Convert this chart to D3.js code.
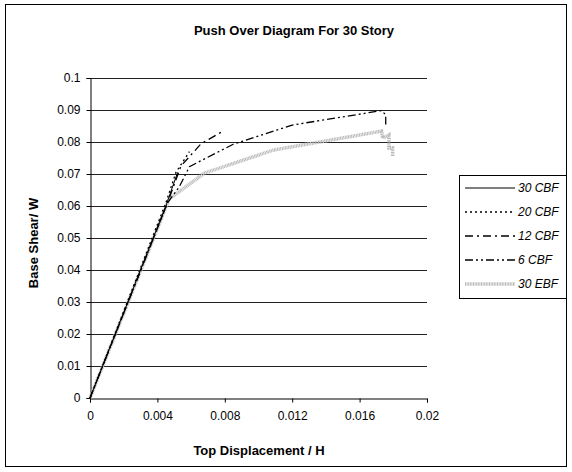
<!DOCTYPE html>
<html lang="en">
<head>
    <title>Push Over Diagram</title>
    <script src="https://d3js.org/d3.v7.min.js"></script>
    <style>
        body { margin: 0; background: #fff; }
        text { font-family: "Liberation Sans", Arial, sans-serif; }
    </style>
</head>
<body>
<div id="chart"></div>
<script>
    // series values: [displacement / H, base shear / W]
    var cbf30 = [[0, 0], [0.0045, 0.06], [0.0052, 0.0705]];
    var cbf20 = [[0, 0], [0.0045, 0.061], [0.0051, 0.0705], [0.0059, 0.077]];
    var cbf12 = [[0, 0], [0.0046, 0.061], [0.0054, 0.0725], [0.0066, 0.0795], [0.0079, 0.0834]];
    var cbf6 = [[0, 0], [0.0046, 0.061], [0.0053, 0.066], [0.0059, 0.0723], [0.0085, 0.0793],
        [0.012, 0.0853], [0.0173, 0.0898], [0.01755, 0.0885], [0.01755, 0.0855]];
    var ebf30 = [[0, 0], [0.0047, 0.0622], [0.0068, 0.0703], [0.0109, 0.0775], [0.0173, 0.0834],
        [0.01737, 0.0812], [0.01774, 0.0822], [0.01774, 0.0781], [0.01796, 0.0781], [0.01796, 0.0754]];

    var seriesNames = ["30 CBF", "20 CBF", "12 CBF", "6 CBF", "30 EBF"];
    var xTicks = [0, 0.004, 0.008, 0.012, 0.016, 0.02];
    var yTicks = [0, 0.01, 0.02, 0.03, 0.04, 0.05, 0.06, 0.07, 0.08, 0.09, 0.1];

    var w = 572, h = 472;
    var series = [
        { name: seriesNames[0], data: cbf30, stroke: "#000", width: 1, dash: null },
        { name: seriesNames[1], data: cbf20, stroke: "#000", width: 1.3, dash: "2,3" },
        { name: seriesNames[2], data: cbf12, stroke: "#000", width: 1.3, dash: "8,4,2,4" },
        { name: seriesNames[3], data: cbf6, stroke: "#000", width: 1.3, dash: "8,3,2,3,2,3" },
        { name: seriesNames[4], data: ebf30, stroke: "#b8b8b8", width: 3.5, dash: "1,0.6" }
    ];

    var svg = d3.select("#chart").append("svg")
        .attr("width", w)
        .attr("height", h);

    // outer frame
    svg.append("rect")
        .attr("x", 5.5).attr("y", 4.5)
        .attr("width", 561).attr("height", 462)
        .attr("fill", "none").attr("stroke", "#000");

    var xScale = d3.scaleLinear().domain([0, 0.02]).range([90, 427]);
    var yScale = d3.scaleLinear().domain([0, 0.1]).range([398, 78]);

    // gridlines
    svg.append("g").selectAll("line")
        .data(yTicks.filter(d => d > 0))
        .enter().append("line")
        .attr("x1", xScale(0)).attr("x2", xScale(0.02))
        .attr("y1", d => yScale(d) + 0.5).attr("y2", d => yScale(d) + 0.5)
        .attr("stroke", "#222").attr("stroke-width", 1);

    var xAxis = svg.append("g")
        .attr("transform", "translate(0," + (yScale(0) + 0.5) + ")")
        .call(d3.axisBottom(xScale).tickValues(xTicks).tickSize(4).tickPadding(9)
            .tickFormat(d => d === 0 ? "0" : String(+d.toFixed(3))));
    var yAxis = svg.append("g")
        .attr("transform", "translate(" + (xScale(0) + 0.5) + ",0)")
        .call(d3.axisLeft(yScale).tickValues(yTicks).tickSize(4).tickPadding(6)
            .tickFormat(d => d === 0 ? "0" : String(+d.toFixed(2))));
    [xAxis, yAxis].forEach(a => {
        a.selectAll("text").style("font-size", "12px").attr("fill", "#000")
            .style("font-family", "'Liberation Sans', Arial, sans-serif");
        a.select(".domain").attr("stroke", "#000");
        a.selectAll(".tick line").attr("stroke", "#000");
    });

    var line = d3.line()
        .x(d => xScale(d[0]))
        .y(d => yScale(d[1]));

    // draw grey EBF first so black lines sit on top
    [series[4], series[0], series[1], series[2], series[3]].forEach(s => {
        svg.append("path")
            .datum(s.data)
            .attr("d", line)
            .attr("fill", "none")
            .attr("stroke", s.stroke)
            .attr("stroke-width", s.width)
            .attr("stroke-dasharray", s.dash);
    });

    // titles
    svg.append("text")
        .attr("x", 294).attr("y", 35)
        .attr("text-anchor", "middle")
        .style("font-size", "13px").style("font-weight", "bold")
        .text("Push Over Diagram For 30 Story");

    svg.append("text")
        .attr("x", 259).attr("y", 455)
        .attr("text-anchor", "middle")
        .style("font-size", "13px").style("font-weight", "bold")
        .text("Top Displacement / H");

    svg.append("text")
        .attr("transform", "translate(38,243) rotate(-90)")
        .attr("text-anchor", "middle")
        .style("font-size", "13px").style("font-weight", "bold")
        .text("Base Shear/ W");

    // legend
    var legend = svg.append("g");
    legend.append("rect")
        .attr("x", 459.5).attr("y", 175.5)
        .attr("width", 107).attr("height", 123)
        .attr("fill", "#fff").attr("stroke", "#000");

    series.forEach((s, i) => {
        var y = 188 + i * 24;
        legend.append("line")
            .attr("x1", 465).attr("x2", 515)
            .attr("y1", y).attr("y2", y)
            .attr("stroke", s.stroke)
            .attr("stroke-width", s.width)
            .attr("stroke-dasharray", s.dash);
        legend.append("text")
            .attr("x", 518).attr("y", y + 4)
            .style("font-size", "12px").style("font-style", "italic")
            .text(s.name);
    });
</script>
</body>
</html>
